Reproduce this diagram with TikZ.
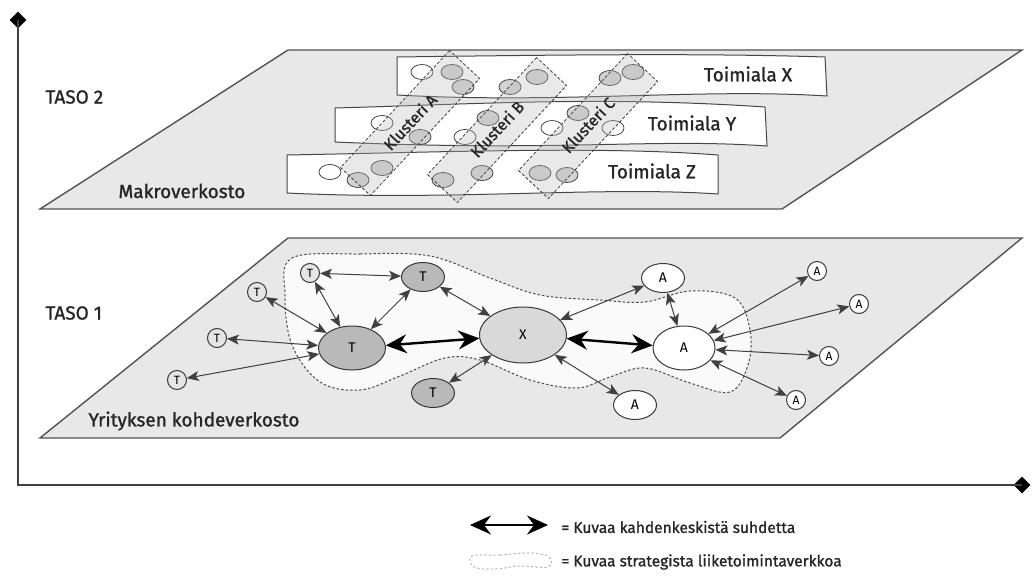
\documentclass[tikz,border=0pt]{standalone}
\usepackage{fontspec}
\setmainfont{Fira Sans}
\newfontfamily\labfont{Fira Sans}[FakeBold=1.2]
\usetikzlibrary{arrows.meta,shapes.geometric}
\begin{document}
\begin{tikzpicture}[x=1pt,y=-1pt,
  plane/.style={fill=gray!18, draw=gray!65!black, line width=1.4pt, line join=miter},
  strip/.style={fill=white, draw=gray!55!black, line width=1pt},
  mc/.style={ellipse, minimum width=22pt, minimum height=15pt, draw=gray!55!black, line width=0.8pt, inner sep=0pt},
  mcw/.style={mc, fill=white},
  mcg/.style={mc, fill=gray!35},
  cluster/.style={rectangle, draw=black!75, dash pattern=on 3pt off 2pt, fill=gray!55, fill opacity=0.3, line width=0.8pt, minimum width=160pt, minimum height=41pt, inner sep=0pt, rotate=47},
  cllabel/.style={rotate=47, font=\labfont\fontsize{16}{18}\selectfont, text=black!85},
  lbl/.style={anchor=west, font=\labfont\fontsize{19}{22}\selectfont, text=black!85},
  tlbl/.style={font=\labfont\fontsize{19}{22}\selectfont, text=black!85},
  bigT/.style={ellipse, draw=gray!45!black, line width=1pt, fill=gray!55, inner sep=0pt, font=\fontsize{14}{15}\selectfont},
  bigA/.style={ellipse, draw=gray!45!black, line width=1pt, fill=white, inner sep=0pt, font=\fontsize{14}{15}\selectfont},
  smallT/.style={circle, draw=gray!45!black, line width=1pt, fill=gray!20, minimum size=19pt, inner sep=0pt, font=\fontsize{12}{13}\selectfont},
  smallA/.style={circle, draw=gray!45!black, line width=1pt, fill=white, minimum size=19pt, inner sep=0pt, font=\fontsize{12}{13}\selectfont},
  arr/.style={{Stealth[length=12pt,width=10pt,inset=3pt]}-{Stealth[length=12pt,width=10pt,inset=3pt]}, line width=1pt, draw=black!75},
  bigarr/.style={{Stealth[length=21pt,width=19pt,inset=7pt]}-{Stealth[length=21pt,width=19pt,inset=7pt]}, line width=2.4pt, draw=black},
  region/.style={draw=gray!60!black, dash pattern=on 2.5pt off 2pt, line width=1pt, fill=gray!4},
  axis/.style={draw=black!75, line width=2pt},
  tip/.style={diamond, fill=black, minimum size=17pt, inner sep=0pt}
]
\useasboundingbox (0,0) rectangle (1033,577);

% axes
\coordinate (O) at (18,485);
\node[tip] (ytip) at (18,20) {};
\node[tip] (xtip) at (1022,485) {};
\draw[axis] (ytip.center) -- (O) -- (xtip.center);

% ---------- TASO 2 ----------
\draw[plane] (288,50) -- (1022,50) -- (782,209) -- (40,209) -- cycle;
\node[lbl] (taso2) at (42,97) {TASO 2};
\node[lbl] (makro) at (115,191) {Makroverkosto};

\draw[strip] (397,57) .. controls (550,55) and (700,53) .. (825,57) -- (827,96)
  .. controls (700,88) and (560,104) .. (397,95) -- cycle;
\draw[strip] (335,108) .. controls (480,104) and (600,96) .. (765,107) -- (767,146)
  .. controls (650,138) and (560,152) .. (335,142) -- cycle;
\draw[strip] (287,155) .. controls (450,152) and (600,146) .. (718,155) -- (718,194)
  .. controls (600,186) and (450,201) .. (287,193) -- cycle;

\node[tlbl] (tx) at (748,74) {Toimiala X};
\node[tlbl] (ty) at (692,123) {Toimiala Y};
\node[tlbl] (tz) at (652,171) {Toimiala Z};

% firms
\node[mcw] (c1) at (422,72) {};
\node[mcg] (c2) at (452,72) {};
\node[mcg] (c3) at (463,87) {};
\node[mcg] (c4) at (510,87) {};
\node[mcg] (c5) at (537,77) {};
\node[mcg] (c6) at (610,78) {};
\node[mcg] (c7) at (633,72) {};
\node[mcw] (c8) at (382,123) {};
\node[mcg] (c9) at (420,137) {};
\node[mcw] (c10) at (465,137) {};
\node[mcg] (c11) at (488,118) {};
\node[mcw] (c12) at (552,128) {};
\node[mcg] (c13) at (578,113) {};
\node[mcw] (c14) at (613,128) {};
\node[mcw] (c15) at (330,172) {};
\node[mcg] (c16) at (358,180) {};
\node[mcg] (c17) at (382,168) {};
\node[mcg] (c18) at (443,180) {};
\node[mcg] (c19) at (482,173) {};
\node[mcg] (c20) at (540,173) {};
\node[mcg] (c21) at (567,175) {};

% clusters
\node[cluster] (kA) at (410,123) {};
\node[cluster] (kB) at (497,130) {};
\node[cluster] (kC) at (588,126) {};
\node[cllabel] (kAl) at (410,122) {Klusteri A};
\node[cllabel] (kBl) at (497,129) {Klusteri B};
\node[cllabel] (kCl) at (588,125) {Klusteri C};

% ---------- TASO 1 ----------
\draw[plane] (288,238) -- (1022,238) -- (780,438) -- (40,438) -- cycle;
\node[lbl] (taso1) at (42,313) {TASO 1};
\node[lbl] (yrit) at (85,421) {Yrityksen kohdeverkosto};

\draw[region] plot[smooth cycle, tension=0.6] coordinates {
  (292,258) (360,254) (430,256) (490,278) (540,295) (600,300) (645,302)
  (690,291) (735,298) (750,330) (748,365) (730,392) (690,383) (645,368)
  (610,377) (577,388) (530,380) (480,360) (445,358) (400,376) (360,390)
  (320,382) (292,345) (285,295)};

\node[bigT, minimum width=67pt, minimum height=44pt] (Tb) at (352,348) {T};
\node[bigT, minimum width=43pt, minimum height=29pt] (Tt) at (423,277) {T};
\node[bigT, minimum width=43pt, minimum height=29pt] (Tl) at (433,393) {T};
\node[bigT, fill=gray!30, minimum width=87pt, minimum height=56pt] (X) at (523,335) {X};
\node[bigA, minimum width=62pt, minimum height=44pt] (Ab) at (684,348) {A};
\node[bigA, minimum width=43pt, minimum height=29pt] (At) at (663,278) {A};
\node[bigA, minimum width=43pt, minimum height=29pt] (Al) at (635,405) {A};

\node[smallT] (t1) at (310,273) {T};
\node[smallT] (t2) at (257,292) {T};
\node[smallT] (t3) at (217,338) {T};
\node[smallT] (t4) at (177,380) {T};

\node[smallA] (a1) at (817,271) {A};
\node[smallA] (a2) at (859,304) {A};
\node[smallA] (a3) at (829,356) {A};
\node[smallA] (a4) at (796,400) {A};

\draw[arr] (t1) -- (Tt);
\draw[arr] (t1) -- (Tb);
\draw[arr] (t2) -- (Tb);
\draw[arr] (t3) -- (Tb);
\draw[arr] (t4) -- (Tb);
\draw[arr] (Tt) -- (Tb);
\draw[arr] (Tt) -- (X);
\draw[arr] (Tl) -- (X);
\draw[arr] (X) -- (At);
\draw[arr] (X) -- (Al);
\draw[arr] (At) -- (Ab);
\draw[arr] (Ab) -- (a1);
\draw[arr] (Ab) -- (a2);
\draw[arr] (Ab) -- (a3);
\draw[arr] (Ab) -- (a4);
\draw[bigarr] (Tb) -- (X);
\draw[bigarr] (X) -- (Ab);

% ---------- legend ----------
\coordinate (la) at (470,525);
\coordinate (lb) at (548,525);
\draw[bigarr, line width=2pt] (la) -- (lb);
\node[anchor=west, font=\labfont\fontsize{15.5}{18}\selectfont, text=black!85] (leg1) at (558,527) {= Kuvaa kahdenkeskistä suhdetta};
\draw[region, fill=none, draw=gray!55] plot[smooth cycle, tension=0.6] coordinates {
  (472,556) (500,555) (530,553) (549,557) (548,567) (520,566) (495,569) (474,567)};
\node[anchor=west, font=\labfont\fontsize{15.5}{18}\selectfont, text=black!85] (leg2) at (558,562) {= Kuvaa strategista liiketoimintaverkkoa};
\end{tikzpicture}
\end{document}
